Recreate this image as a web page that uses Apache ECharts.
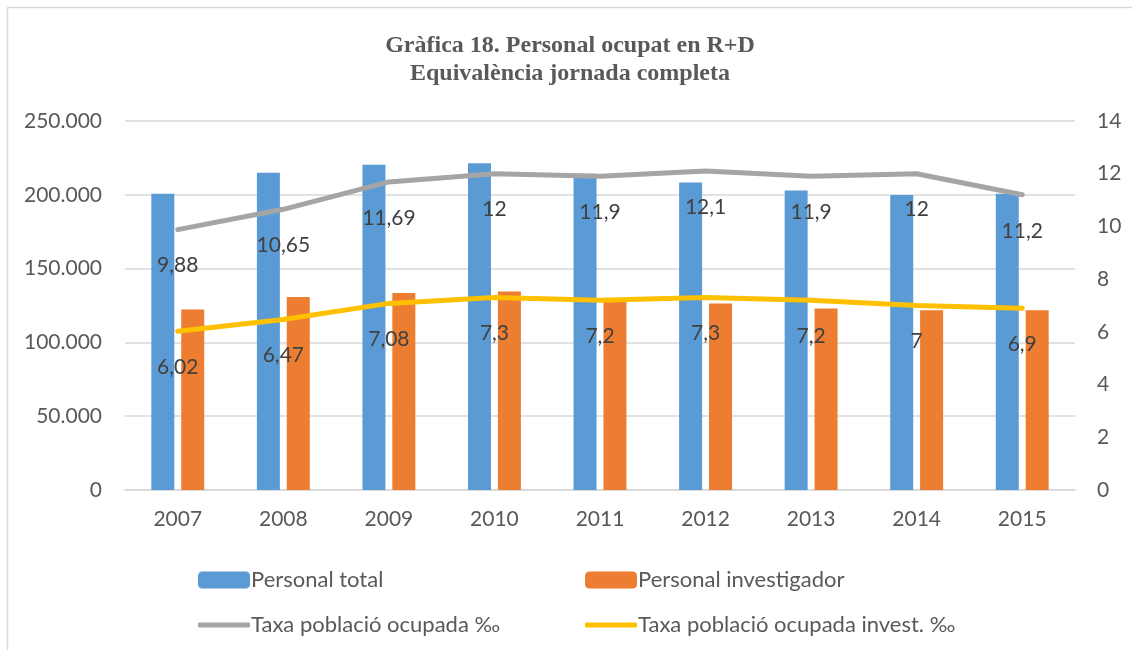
<!DOCTYPE html>
<html>
<head>
<meta charset="utf-8">
<script src="https://cdn.jsdelivr.net/npm/echarts@6/dist/echarts.min.js"></script>
<style>
html, body { margin: 0; padding: 0; background: #fff; }
#chart { width: 1132px; height: 650px; }
</style>
</head>
<body>
<div id="chart"></div>
<script>
// Personal ocupat en R+D
var years = ['2007', '2008', '2009', '2010', '2011', '2012', '2013', '2014', '2015'];
var personalTotal = [200700, 215000, 220300, 221400, 214200, 208300, 202900, 199800, 200700];
var personalInvest = [122300, 130800, 133500, 134500, 127400, 126400, 123000, 121800, 121800];
var taxaOcupada = [9.88, 10.65, 11.69, 12, 11.9, 12.1, 11.9, 12, 11.2];
var taxaInvest = [6.02, 6.47, 7.08, 7.3, 7.2, 7.3, 7.2, 7, 6.9];

var FONT = 'Lato';
var textGrey = '#595959';

function fmtMiles(v) {
    return String(v).replace(/\B(?=(\d{3})+(?!\d))/g, '.');
}
function fmtComma(p) {
    return String(p.value).replace('.', ',');
}

var chart = echarts.init(document.getElementById('chart'));
var lineLabel = {
    show: true,
    position: 'bottom',
    distance: 25,
    color: '#404040',
    fontFamily: FONT,
    fontSize: 21,
    formatter: fmtComma
};
var legendText = { fontFamily: FONT, fontSize: 22, color: textGrey, padding: [0, 0, 0, -4] };

var option = {
    backgroundColor: '#fff',
    animation: false,
    title: {
        text: 'Gràfica 18. Personal ocupat en R+D\nEquivalència jornada completa',
        left: 565,
        textAlign: 'center',
        top: 27,
        textStyle: {
            fontFamily: 'Liberation Serif',
            fontWeight: 'bold',
            fontSize: 24,
            lineHeight: 28,
            color: textGrey
        }
    },
    graphic: [
        { type: 'line', shape: { x1: 7.5, y1: 7.5, x2: 7.5, y2: 650 }, style: { stroke: '#d9d9d9', lineWidth: 1.5 } },
        { type: 'line', shape: { x1: 7.5, y1: 7.5, x2: 1132, y2: 7.5 }, style: { stroke: '#d9d9d9', lineWidth: 1.5 } }
    ],
    legend: [
        { data: ['Personal total'], left: 193, top: 564, itemWidth: 52, itemHeight: 17, itemGap: 0, textStyle: legendText },
        { data: ['Personal investigador'], left: 580, top: 564, itemWidth: 52, itemHeight: 17, itemGap: 0, textStyle: legendText },
        { data: [{ name: 'Taxa població ocupada ‰', icon: 'roundRect' }], left: 193, top: 609, itemWidth: 52, itemHeight: 5, itemGap: 0, textStyle: legendText },
        { data: [{ name: 'Taxa població ocupada invest. ‰', icon: 'roundRect' }], left: 580, top: 609, itemWidth: 52, itemHeight: 5, itemGap: 0, textStyle: legendText }
    ],
    grid: {
        left: 125,
        right: 57,
        top: 121,
        bottom: 160
    },
    xAxis: {
        type: 'category',
        data: years,
        axisLine: { show: true, lineStyle: { color: '#d9d9d9', width: 1.5 } },
        axisTick: { show: false },
        axisLabel: { color: textGrey, fontFamily: FONT, fontSize: 21, margin: 19 }
    },
    yAxis: [
        {
            type: 'value',
            min: 0,
            max: 250000,
            interval: 50000,
            axisLine: { show: false },
            axisTick: { show: false },
            splitLine: { lineStyle: { color: '#d9d9d9', width: 1.5 } },
            axisLabel: { color: textGrey, fontFamily: FONT, fontSize: 21, margin: 23, formatter: fmtMiles }
        },
        {
            type: 'value',
            min: 0,
            max: 14,
            interval: 2,
            axisLine: { show: false },
            axisTick: { show: false },
            splitLine: { show: false },
            axisLabel: { color: textGrey, fontFamily: FONT, fontSize: 21, margin: 22 }
        }
    ],
    series: [
        {
            name: 'Personal total',
            type: 'bar',
            data: personalTotal,
            barWidth: 23,
            barGap: '30%',
            itemStyle: { color: '#5b9bd5' }
        },
        {
            name: 'Personal investigador',
            type: 'bar',
            data: personalInvest,
            barWidth: 23,
            itemStyle: { color: '#ed7d31' }
        },
        {
            name: 'Taxa població ocupada ‰',
            type: 'line',
            yAxisIndex: 1,
            data: taxaOcupada,
            symbol: 'circle',
            symbolSize: 1,
            showSymbol: true,
            lineStyle: { color: '#a5a5a5', width: 5, cap: 'round' },
            itemStyle: { color: '#a5a5a5' },
            label: lineLabel
        },
        {
            name: 'Taxa població ocupada invest. ‰',
            type: 'line',
            yAxisIndex: 1,
            data: taxaInvest,
            symbol: 'circle',
            symbolSize: 1,
            showSymbol: true,
            lineStyle: { color: '#ffc000', width: 5, cap: 'round' },
            itemStyle: { color: '#ffc000' },
            label: lineLabel
        }
    ]
};
chart.setOption(option);
</script>
</body>
</html>
